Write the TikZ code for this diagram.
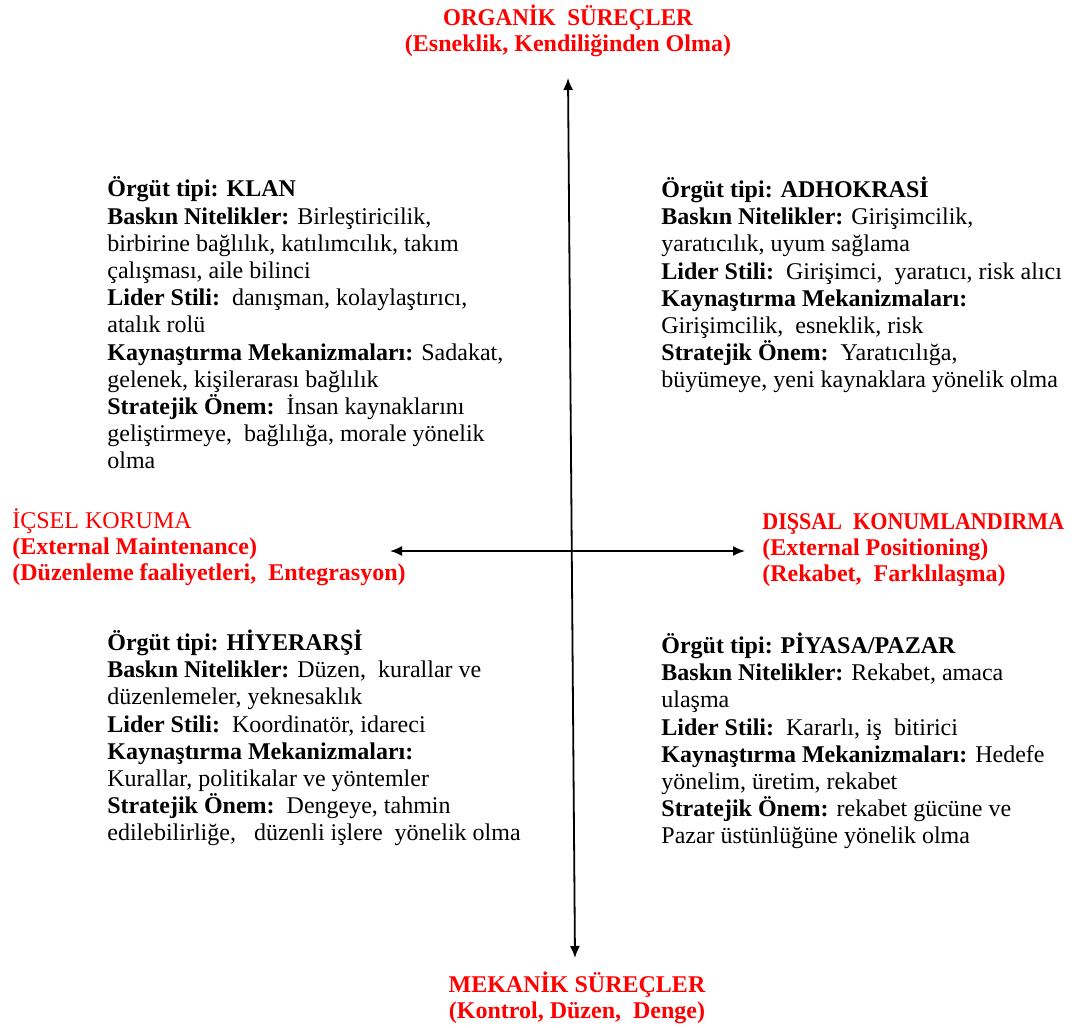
\documentclass[tikz,border=0pt]{standalone}
\usepackage{fontspec}
\setmainfont{Liberation Serif}
\usetikzlibrary{positioning,arrows.meta}

\begin{document}
\begin{tikzpicture}[
    x=0.5pt, y=-0.5pt,
    ax/.style={{Latex[length=6pt,width=5pt]}-{Latex[length=6pt,width=5pt]}, line width=0.9pt, black},
    pole/.style={font=\fontsize{12}{13}\selectfont\bfseries, text=red, inner sep=0pt},
    quad/.style={font=\fontsize{12}{13.6}\selectfont, align=left, anchor=west, inner sep=0pt},
]
\useasboundingbox (0,0) rectangle (1082,1028);
% axes
\coordinate (top) at (568,78);
\coordinate (bot) at (575,958);
\coordinate (lft) at (390,551);
\coordinate (rgt) at (745,551);
\draw[ax] (bot) -- (top);
\draw[ax] (lft) -- (rgt);
% pole labels
\node[pole, align=center] (organik) at (568,31) {\scalebox{0.96}[1]{ORGANİK\ \ SÜREÇLER}\\(Esneklik, Kendiliğinden Olma)};
\node[pole, align=center] (mekanik) at (577,998) {MEKANİK SÜREÇLER\\(Kontrol, Düzen,\ \ Denge)};
\node[pole, align=left, anchor=west] (icsel) at (12,547) {\mdseries İÇSEL KORUMA\\(External Maintenance)\\(Düzenleme faaliyetleri,\ \ Entegrasyon)};
\node[pole, align=left, anchor=west] (dissal) at (762,550) {\scalebox{0.92}[1]{DIŞSAL\ \ KONUMLANDIRMA}\\(External Positioning)\\(Rekabet,\ \ Farklılaşma)};
% quadrants
\node[quad] (klan) at (107,323) {\textbf{Örgüt tipi: KLAN}\\
  \textbf{Baskın Nitelikler:} Birleştiricilik,\\
  birbirine bağlılık, katılımcılık, takım\\
  çalışması, aile bilinci\\
  \textbf{Lider Stili:}\ \ danışman, kolaylaştırıcı,\\
  atalık rolü\\
  \textbf{Kaynaştırma Mekanizmaları:} Sadakat,\\
  gelenek, kişilerarası bağlılık\\
  \textbf{Stratejik Önem:}\ \ İnsan kaynaklarını\\
  geliştirmeye,\ \ bağlılığa, morale yönelik\\
  olma};
\node[quad] (adhokrasi) at (661,285) {\textbf{Örgüt tipi: ADHOKRASİ}\\
  \textbf{Baskın Nitelikler:} Girişimcilik,\\
  yaratıcılık, uyum sağlama\\
  \textbf{Lider Stili:}\ \ Girişimci,\ \ yaratıcı, risk alıcı\\
  \textbf{Kaynaştırma Mekanizmaları:}\\
  Girişimcilik,\ \ esneklik, risk\\
  \textbf{Stratejik Önem:}\ \ Yaratıcılığa,\\
  büyümeye, yeni kaynaklara yönelik olma};
\node[quad] (hiyerarsi) at (107,738) {\textbf{Örgüt tipi: HİYERARŞİ}\\
  \textbf{Baskın Nitelikler:} Düzen,\ \ kurallar ve\\
  düzenlemeler, yeknesaklık\\
  \textbf{Lider Stili:}\ \ Koordinatör, idareci\\
  \textbf{Kaynaştırma Mekanizmaları:}\\
  Kurallar, politikalar ve yöntemler\\
  \textbf{Stratejik Önem:}\ \ Dengeye, tahmin\\
  edilebilirliğe,\ \ \ düzenli işlere\ \ yönelik olma};
\node[quad] (piyasa) at (661,741) {\textbf{Örgüt tipi: PİYASA/PAZAR}\\
  \textbf{Baskın Nitelikler:} Rekabet, amaca\\
  ulaşma\\
  \textbf{Lider Stili:}\ \ Kararlı, iş\ \ bitirici\\
  \textbf{Kaynaştırma Mekanizmaları:} Hedefe\\
  yönelim, üretim, rekabet\\
  \textbf{Stratejik Önem:} rekabet gücüne ve\\
  Pazar üstünlüğüne yönelik olma};
\end{tikzpicture}
\end{document}
